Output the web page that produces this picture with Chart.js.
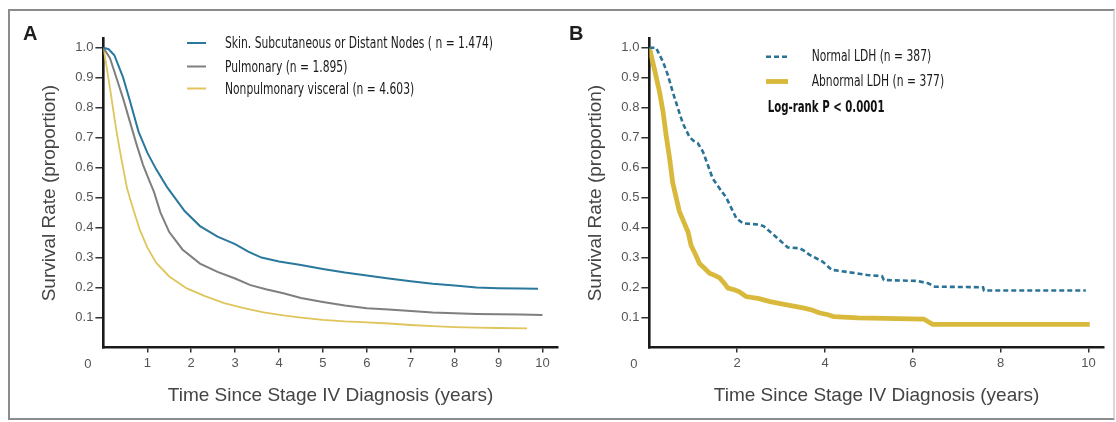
<!DOCTYPE html>
<html>
<head>
<meta charset="utf-8">
<script src="https://cdn.jsdelivr.net/npm/chart.js@4.4.1/dist/chart.umd.min.js"></script>
<style>
  html, body { margin: 0; padding: 0; background: #ffffff; }
  #wrap { position: relative; width: 1116px; height: 422px; overflow: hidden; background: #fff; }
  #frame { position: absolute; left: 8px; top: 9px; width: 1107px; height: 411px; box-sizing: border-box;
           border: 2px solid #8c8c8c; border-right-color: #d8d8d8; }
  canvas { position: absolute; top: 0; }
  #cA { left: 0; }
  #cB { left: 546px; }
</style>
</head>
<body>
<div id="wrap">
  <div id="frame"></div>
  <canvas id="cA" width="570" height="422" style="width:570px;height:422px"></canvas>
  <canvas id="cB" width="570" height="422" style="width:570px;height:422px"></canvas>
</div>
<script>
// ---------- Data ----------
const yTicks = [0.1, 0.2, 0.3, 0.4, 0.5, 0.6, 0.7, 0.8, 0.9, 1.0];
const xTicksA = [1, 2, 3, 4, 5, 6, 7, 8, 9, 10];
const xTicksB = [2, 4, 6, 8, 10];

// Panel A
const labelsA = [
  'Skin. Subcutaneous or Distant Nodes ( n = 1.474)',
  'Pulmonary (n = 1.895)',
  'Nonpulmonary visceral (n = 4.603)'
];
const tSkin = [0, 0.12, 0.25, 0.45, 0.6, 0.8, 1.0, 1.2, 1.45, 1.65, 1.85, 2.2, 2.6, 3.0, 3.3, 3.6, 4.0, 4.5, 5.0, 5.5, 6.0, 6.5, 7.0, 7.5, 8.0, 8.5, 9.0, 9.5, 9.9];
const sSkin = [1.0, 0.995, 0.975, 0.9, 0.825, 0.72, 0.65, 0.595, 0.535, 0.495, 0.455, 0.405, 0.37, 0.345, 0.32, 0.3, 0.287, 0.275, 0.262, 0.25, 0.24, 0.23, 0.221, 0.213, 0.207, 0.2, 0.198, 0.197, 0.196];
const tPulm = [0, 0.15, 0.3, 0.45, 0.6, 0.75, 0.9, 1.05, 1.15, 1.3, 1.5, 1.8, 2.2, 2.6, 3.0, 3.35, 3.7, 4.1, 4.5, 5.0, 5.5, 6.0, 6.5, 7.0, 7.5, 8.0, 8.5, 9.0, 9.5, 10.0];
const sPulm = [1.0, 0.965, 0.898, 0.83, 0.755, 0.68, 0.61, 0.555, 0.52, 0.45, 0.385, 0.327, 0.28, 0.252, 0.23, 0.208, 0.194, 0.181, 0.165, 0.152, 0.14, 0.131, 0.127, 0.122, 0.117, 0.114, 0.112, 0.111, 0.11, 0.108];
const tVisc = [0, 0.08, 0.15, 0.23, 0.3, 0.38, 0.45, 0.54, 0.62, 0.7, 0.83, 1.0, 1.2, 1.5, 1.9, 2.3, 2.75, 3.2, 3.65, 4.1, 4.5, 5.0, 5.5, 6.0, 6.5, 7.0, 7.5, 8.0, 8.5, 9.0, 9.65];
const sVisc = [1.0, 0.93, 0.865, 0.787, 0.72, 0.653, 0.598, 0.53, 0.49, 0.452, 0.392, 0.334, 0.283, 0.237, 0.197, 0.172, 0.148, 0.131, 0.117, 0.107, 0.1, 0.092, 0.087, 0.084, 0.08, 0.075, 0.071, 0.068, 0.066, 0.065, 0.064];

// Panel B
const labelsB = ['Normal LDH (n = 387)', 'Abnormal LDH (n = 377)'];
const pValueText = 'Log-rank P < 0.0001';
const tNormal = [0, 0.15, 0.31, 0.42, 0.53, 0.65, 0.76, 0.91, 1.0, 1.1, 1.22, 1.33, 1.44, 1.6, 1.75, 1.85, 1.98, 2.13, 2.5, 2.6, 2.75, 2.96, 3.15, 3.42, 3.5, 3.65, 3.95, 4.15, 4.5, 4.96, 5.3, 5.34, 6.1, 6.35, 6.5, 7.6, 7.62, 9.94];
const sNormal = [1.0, 1.0, 0.953, 0.909, 0.853, 0.798, 0.748, 0.703, 0.69, 0.682, 0.653, 0.609, 0.564, 0.53, 0.5, 0.47, 0.431, 0.414, 0.41, 0.405, 0.386, 0.359, 0.334, 0.331, 0.325, 0.309, 0.286, 0.259, 0.252, 0.242, 0.238, 0.225, 0.222, 0.214, 0.203, 0.201, 0.19, 0.19];
const tAbn = [0, 0.11, 0.23, 0.31, 0.38, 0.46, 0.53, 0.61, 0.68, 0.78, 0.88, 0.95, 1.05, 1.14, 1.25, 1.37, 1.5, 1.6, 1.7, 1.79, 1.95, 2.05, 2.2, 2.5, 2.75, 3.1, 3.5, 3.7, 3.88, 4.05, 4.2, 4.75, 6.25, 6.45, 10.03];
const sAbn = [1.0, 0.931, 0.853, 0.787, 0.709, 0.631, 0.55, 0.5, 0.455, 0.42, 0.385, 0.34, 0.31, 0.28, 0.265, 0.248, 0.24, 0.232, 0.215, 0.198, 0.192, 0.186, 0.17, 0.163, 0.153, 0.143, 0.132, 0.125, 0.115, 0.11, 0.103, 0.099, 0.095, 0.077, 0.077];

// ---------- Styles ----------
const C_BLUE_A = '#2a789c', C_GRAY = '#7f7f7f', C_YEL_A = '#dfc55c';
const C_BLUE_B = '#2b7396', C_YEL_B = '#d8b93c';
const TICK_FONT = { family: "'Liberation Sans', Arial, sans-serif", size: 13 };
const TITLE_FONT = { family: "'Liberation Sans', Arial, sans-serif", size: 19 };
const NARROW = "'DejaVu Sans Condensed', 'DejaVu Sans', sans-serif";
const CONDENSE = 0.77;       // horizontal squeeze for the condensed legend face
const CONDENSE_BOLD = 0.73;

function pts(ts, ss) { return ts.map((t, i) => ({ x: t, y: ss[i] })); }

function squeezedText(ctx, text, x, y, sx) {
  ctx.save();
  ctx.translate(x, y);
  ctx.scale(sx, 1);
  ctx.fillText(text, 0, 0);
  ctx.restore();
}

function decorPlugin(letter, legendDraw) {
  return {
    id: 'decor' + letter,
    afterDraw(chart) {
      const ctx = chart.ctx;
      const xs = chart.scales.x;
      ctx.save();
      ctx.fillStyle = '#1e1e1e';
      ctx.font = "bold 20px 'Liberation Sans', Arial, sans-serif";
      ctx.textAlign = 'left';
      ctx.textBaseline = 'alphabetic';
      ctx.fillText(letter, 23, 40);
      ctx.fillStyle = '#555';
      ctx.font = "13px 'Liberation Sans', Arial, sans-serif";
      ctx.textAlign = 'center';
      ctx.textBaseline = 'middle';
      ctx.fillText('0', xs.getPixelForValue(0) - 15.5, chart.chartArea.bottom + 16.5);
      legendDraw(ctx, chart);
      ctx.restore();
    }
  };
}

function legendA(ctx, chart) {
  const rows = [43, 66.5, 88.5];
  chart.data.datasets.forEach((ds, i) => {
    ctx.strokeStyle = ds.borderColor;
    ctx.lineWidth = 2;
    ctx.setLineDash([]);
    ctx.beginPath(); ctx.moveTo(187, rows[i]); ctx.lineTo(206, rows[i]); ctx.stroke();
    ctx.fillStyle = '#1a1a1a';
    ctx.font = '15.5px ' + NARROW;
    ctx.textAlign = 'left'; ctx.textBaseline = 'middle';
    squeezedText(ctx, ds.label, 225, rows[i] + 1, CONDENSE);
  });
}

function legendB(ctx, chart) {
  const rows = [56.7, 81.5];
  chart.data.datasets.forEach((ds, i) => {
    ctx.strokeStyle = ds.borderColor;
    ctx.lineWidth = ds.borderWidth;
    ctx.setLineDash(ds.borderDash || []);
    ctx.beginPath(); ctx.moveTo(220, rows[i]); ctx.lineTo(242, rows[i]); ctx.stroke();
    ctx.setLineDash([]);
    ctx.fillStyle = '#1a1a1a';
    ctx.font = '15.5px ' + NARROW;
    ctx.textAlign = 'left'; ctx.textBaseline = 'middle';
    squeezedText(ctx, ds.label, 265.7, rows[i], CONDENSE);
  });
  ctx.fillStyle = '#111';
  ctx.font = 'bold 15.5px ' + NARROW;
  ctx.textAlign = 'left'; ctx.textBaseline = 'middle';
  squeezedText(ctx, pValueText, 221.7, 108.3, CONDENSE_BOLD);
}

function makeOptions(xTicks) {
  return {
    responsive: false,
    animation: false,
    events: [],
    layout: { padding: { left: 0, top: 38.7, right: 12.2, bottom: 0 } },
    plugins: { legend: { display: false }, tooltip: { enabled: false } },
    elements: { point: { radius: 0 }, line: { tension: 0 } },
    scales: {
      x: {
        type: 'linear', min: 0, max: 10.35,
        afterBuildTicks: s => { s.ticks = xTicks.map(v => ({ value: v })); },
        afterFit: s => { s.height = 422 - 347.5; },
        ticks: { font: TICK_FONT, color: '#555', padding: 3, maxRotation: 0, autoSkip: false },
        grid: { drawOnChartArea: false, drawTicks: true, tickLength: 5, color: '#333', lineWidth: 1.5 },
        border: { display: true, color: '#1a1a1a', width: 2.6 },
        title: { display: true, text: 'Time Since Stage IV Diagnosis (years)', font: TITLE_FONT, color: '#444',
                 padding: { top: 0, bottom: 14.6 } }
      },
      y: {
        type: 'linear', min: 0, max: 1.03,
        afterBuildTicks: s => { s.ticks = yTicks.map(v => ({ value: v })); },
        afterFit: s => { s.width = 103.4; },
        ticks: { font: TICK_FONT, color: '#555', padding: 2, callback: v => v.toFixed(1) },
        grid: { drawOnChartArea: false, drawTicks: true, tickLength: 8, color: '#333', lineWidth: 1.5 },
        border: { display: true, color: '#1a1a1a', width: 2.6 },
        title: { display: true, text: 'Survival Rate (proportion)', font: TITLE_FONT, color: '#444',
                 padding: { top: 38, bottom: 0 } }
      }
    }
  };
}

new Chart(document.getElementById('cA'), {
  type: 'line',
  data: {
    datasets: [
      { label: labelsA[0], data: pts(tSkin, sSkin), borderColor: C_BLUE_A, borderWidth: 2, fill: false },
      { label: labelsA[1], data: pts(tPulm, sPulm), borderColor: C_GRAY, borderWidth: 2, fill: false },
      { label: labelsA[2], data: pts(tVisc, sVisc), borderColor: C_YEL_A, borderWidth: 1.8, fill: false }
    ]
  },
  options: makeOptions(xTicksA),
  plugins: [decorPlugin('A', legendA)]
});

new Chart(document.getElementById('cB'), {
  type: 'line',
  data: {
    datasets: [
      { label: labelsB[0], data: pts(tNormal, sNormal), borderColor: C_BLUE_B, borderWidth: 2.6, borderDash: [5, 3], fill: false },
      { label: labelsB[1], data: pts(tAbn, sAbn), borderColor: C_YEL_B, borderWidth: 4.8, fill: false }
    ]
  },
  options: makeOptions(xTicksB),
  plugins: [decorPlugin('B', legendB)]
});
</script>
</body>
</html>
